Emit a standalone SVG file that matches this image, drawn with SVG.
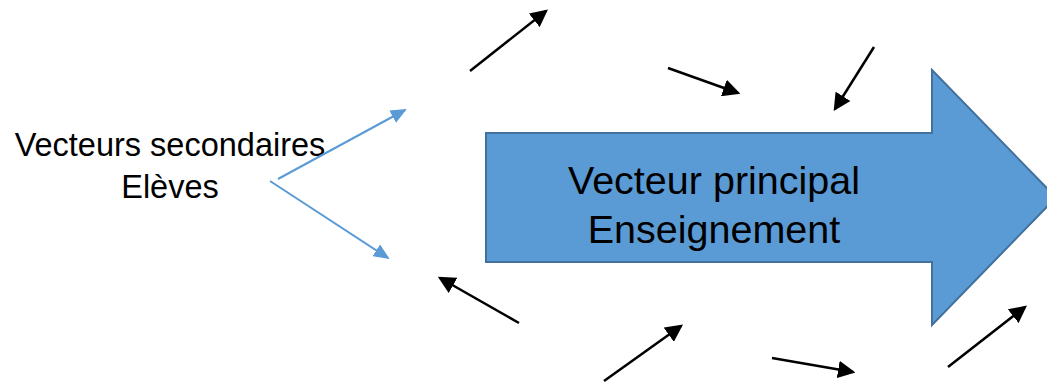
<svg xmlns="http://www.w3.org/2000/svg" width="1047" height="384" viewBox="0 0 1047 384">
<defs>
<style>
.t{font-family:"Liberation Sans","Open Sans",sans-serif;fill:#000}
.k{stroke:#000;stroke-width:2.5;fill:none}
.b{stroke:#5B9BD5;stroke-width:2;fill:none}
</style>
<marker id="ak" markerWidth="7" markerHeight="7" refX="6" refY="3.5" orient="auto" markerUnits="strokeWidth" viewBox="0 0 7 7"><path d="M0,0 L7,3.5 L0,7 z" fill="#000"/></marker>
<marker id="ab" markerWidth="8" markerHeight="7" refX="7" refY="3.5" orient="auto" markerUnits="strokeWidth" viewBox="0 0 8 7"><path d="M0,0 L8,3.5 L0,7 z" fill="#5B9BD5"/></marker>
</defs>
<g id="main-arrow">
<path d="M486,133 L932,133 L932,70 L1056,197.5 L932,325 L932,262 L486,262 Z" fill="#5B9BD5" stroke="#41719C" stroke-width="2"/>
<text class="t" x="714" y="194" font-size="39.5" text-anchor="middle">Vecteur principal</text>
<text class="t" x="714" y="243" font-size="39.5" text-anchor="middle">Enseignement</text>
</g>
<g id="secondary-label">
<text class="t" x="170" y="156" font-size="32.5" text-anchor="middle">Vecteurs secondaires</text>
<text class="t" x="170" y="198" font-size="32.5" text-anchor="middle">Elèves</text>
</g>
<g id="connectors">
<line class="b" x1="278" y1="179" x2="405" y2="110" marker-end="url(#ab)"/>
<line class="b" x1="270" y1="181" x2="388" y2="258" marker-end="url(#ab)"/>
<line class="k" x1="470" y1="71" x2="546" y2="11" marker-end="url(#ak)"/>
<line class="k" x1="668" y1="68" x2="738" y2="93" marker-end="url(#ak)"/>
<line class="k" x1="874" y1="47" x2="835" y2="109" marker-end="url(#ak)"/>
<line class="k" x1="519" y1="323" x2="440" y2="278" marker-end="url(#ak)"/>
<line class="k" x1="604" y1="381" x2="681" y2="326" marker-end="url(#ak)"/>
<line class="k" x1="772" y1="358" x2="853" y2="372" marker-end="url(#ak)"/>
<line class="k" x1="948" y1="367" x2="1025" y2="307" marker-end="url(#ak)"/>
</g>
</svg>
